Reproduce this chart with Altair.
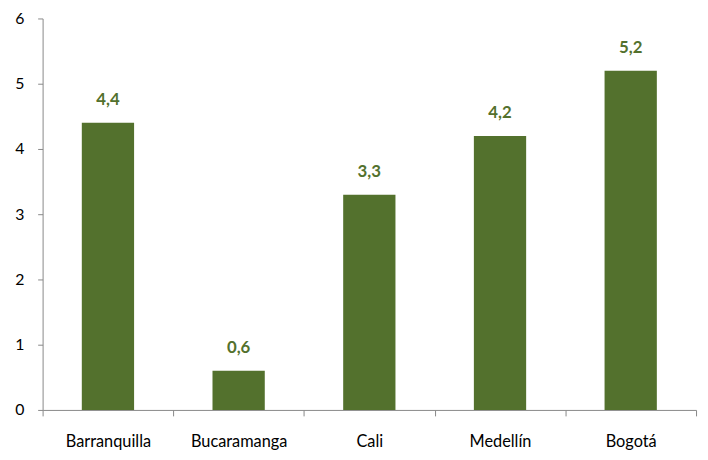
import altair as alt
import pandas as pd

cities = ["Barranquilla", "Bucaramanga", "Cali", "Medellín", "Bogotá"]
values = [4.4, 0.6, 3.3, 4.2, 5.2]
labels = ["4,4", "0,6", "3,3", "4,2", "5,2"]

df = pd.DataFrame({"city": cities, "value": values, "label": labels})

GREEN = "#53712D"
FONT = "Lato"

x = alt.X("city:N", sort=cities, title=None,
          scale=alt.Scale(paddingInner=0, paddingOuter=0),
          axis=alt.Axis(labelAngle=0, tickBand="extent", domainColor="#888888",
                        tickColor="#888888", tickSize=6, labelPadding=18,
                        labelFont=FONT, labelFontSize=16.5, labelColor="#000000"))
y = alt.Y("value:Q", title=None,
          scale=alt.Scale(domain=[0, 6], nice=False),
          axis=alt.Axis(values=[0, 1, 2, 3, 4, 5, 6], format="d", grid=False,
                        domainColor="#888888",
                        tickColor="#888888", tickSize=5, labelPadding=14,
                        labelFont=FONT, labelFontSize=16, labelColor="#000000"))

bars = alt.Chart(df).mark_bar(color=GREEN, width=alt.RelativeBandSize(0.4)).encode(x=x, y=y)
text = alt.Chart(df).mark_text(color=GREEN, font=FONT, fontSize=17, fontWeight="bold",
                               baseline="bottom", dy=-14).encode(
    x=alt.X("city:N", sort=cities), y="value:Q", text="label:N")

chart = (bars + text).properties(
    width=661, height=396,
    autosize=alt.AutoSizeParams(type="none"),
    padding={"left": 35, "top": 8, "right": 4, "bottom": 44},
).configure(background="white", view=alt.ViewConfig(stroke=None))

chart.save("out.html", embed_options={"renderer": "svg", "actions": False})
